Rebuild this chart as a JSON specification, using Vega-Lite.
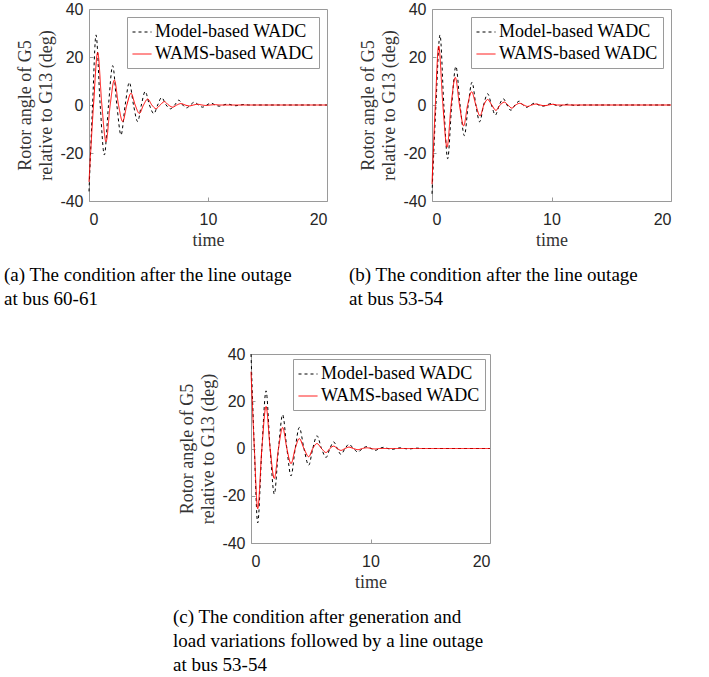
{
  "$schema": "https://vega.github.io/schema/vega-lite/v6.json",
  "padding": {"left": 3, "top": 0, "right": 0, "bottom": 0},
  "background": "white",
  "spacing": 35,
  "resolve": {"scale": {"color": "independent", "strokeDash": "independent"}},
  "datasets": {
    "a": [
      {"s":"M","t":0,"v":-36},{"s":"M","t":0.3,"v":0},{"s":"M","t":0.59,"v":29.2},{"s":"M","t":0.94,"v":0},{"s":"M","t":1.29,"v":-20.8},{"s":"M","t":1.64,"v":0},{"s":"M","t":1.99,"v":16.4},{"s":"M","t":2.34,"v":0},{"s":"M","t":2.69,"v":-12.5},{"s":"M","t":3.04,"v":0},{"s":"M","t":3.39,"v":9.4},{"s":"M","t":3.74,"v":0},{"s":"M","t":4.09,"v":-6.9},{"s":"M","t":4.4,"v":0},{"s":"M","t":4.72,"v":5.6},{"s":"M","t":5.08,"v":0},{"s":"M","t":5.45,"v":-3.6},{"s":"M","t":5.77,"v":0},{"s":"M","t":6.1,"v":3.1},{"s":"M","t":6.48,"v":0},{"s":"M","t":6.85,"v":-1.6},{"s":"M","t":7.2,"v":0},{"s":"M","t":7.55,"v":2.0},{"s":"M","t":7.87,"v":0},{"s":"M","t":8.2,"v":-1.2},{"s":"M","t":8.52,"v":0},{"s":"M","t":8.85,"v":1.2},{"s":"M","t":9.2,"v":0},{"s":"M","t":9.55,"v":-0.9},{"s":"M","t":9.9,"v":0},{"s":"M","t":10.25,"v":0.8},{"s":"M","t":10.6,"v":0},{"s":"M","t":10.95,"v":-0.5},{"s":"M","t":11.3,"v":0},{"s":"M","t":11.65,"v":0.4},{"s":"M","t":12,"v":0},{"s":"M","t":12.35,"v":-0.3},{"s":"M","t":12.7,"v":0},{"s":"M","t":13.05,"v":0.2},{"s":"M","t":13.4,"v":0},{"s":"M","t":20,"v":0},
      {"s":"W","t":0,"v":-32},{"s":"W","t":0.38,"v":0},{"s":"W","t":0.73,"v":21.9},{"s":"W","t":1.08,"v":0},{"s":"W","t":1.43,"v":-15.3},{"s":"W","t":1.78,"v":0},{"s":"W","t":2.13,"v":10.4},{"s":"W","t":2.48,"v":0},{"s":"W","t":2.83,"v":-6.9},{"s":"W","t":3.18,"v":0},{"s":"W","t":3.53,"v":4.9},{"s":"W","t":3.88,"v":0},{"s":"W","t":4.23,"v":-3.5},{"s":"W","t":4.58,"v":0},{"s":"W","t":4.93,"v":2.5},{"s":"W","t":5.28,"v":0},{"s":"W","t":5.63,"v":-1.5},{"s":"W","t":5.98,"v":0},{"s":"W","t":6.33,"v":1.4},{"s":"W","t":6.68,"v":0},{"s":"W","t":7.03,"v":-0.9},{"s":"W","t":7.38,"v":0},{"s":"W","t":7.73,"v":0.6},{"s":"W","t":8.08,"v":0},{"s":"W","t":8.43,"v":-0.4},{"s":"W","t":8.78,"v":0},{"s":"W","t":9.13,"v":0.3},{"s":"W","t":9.5,"v":0},{"s":"W","t":9.85,"v":-0.2},{"s":"W","t":10.2,"v":0},{"s":"W","t":10.6,"v":0.15},{"s":"W","t":11,"v":0},{"s":"W","t":20,"v":0}
    ],
    "b": [
      {"s":"M","t":0,"v":-37},{"s":"M","t":0.33,"v":0},{"s":"M","t":0.67,"v":29.2},{"s":"M","t":0.99,"v":0},{"s":"M","t":1.31,"v":-22.4},{"s":"M","t":1.65,"v":0},{"s":"M","t":2.0,"v":16.1},{"s":"M","t":2.35,"v":0},{"s":"M","t":2.71,"v":-12.8},{"s":"M","t":3.03,"v":0},{"s":"M","t":3.35,"v":9.5},{"s":"M","t":3.67,"v":0},{"s":"M","t":3.99,"v":-7.0},{"s":"M","t":4.32,"v":0},{"s":"M","t":4.66,"v":4.7},{"s":"M","t":4.98,"v":0},{"s":"M","t":5.3,"v":-4.2},{"s":"M","t":5.63,"v":0},{"s":"M","t":5.97,"v":2.6},{"s":"M","t":6.28,"v":0},{"s":"M","t":6.6,"v":-2.2},{"s":"M","t":6.95,"v":0},{"s":"M","t":7.3,"v":1.6},{"s":"M","t":7.6,"v":0},{"s":"M","t":7.9,"v":-1.0},{"s":"M","t":8.25,"v":0},{"s":"M","t":8.6,"v":0.8},{"s":"M","t":8.92,"v":0},{"s":"M","t":9.25,"v":-0.5},{"s":"M","t":9.6,"v":0},{"s":"M","t":9.95,"v":0.6},{"s":"M","t":10.3,"v":0},{"s":"M","t":10.65,"v":-0.5},{"s":"M","t":11,"v":0},{"s":"M","t":11.35,"v":0.3},{"s":"M","t":11.7,"v":0},{"s":"M","t":12.05,"v":-0.2},{"s":"M","t":12.4,"v":0},{"s":"M","t":20,"v":0},
      {"s":"W","t":0,"v":-33},{"s":"W","t":0.28,"v":0},{"s":"W","t":0.56,"v":24.6},{"s":"W","t":0.91,"v":0},{"s":"W","t":1.26,"v":-17.6},{"s":"W","t":1.6,"v":0},{"s":"W","t":1.95,"v":11.5},{"s":"W","t":2.3,"v":0},{"s":"W","t":2.65,"v":-8.7},{"s":"W","t":2.98,"v":0},{"s":"W","t":3.32,"v":5.5},{"s":"W","t":3.67,"v":0},{"s":"W","t":4.02,"v":-4.5},{"s":"W","t":4.34,"v":0},{"s":"W","t":4.66,"v":2.3},{"s":"W","t":5.0,"v":0},{"s":"W","t":5.35,"v":-2.2},{"s":"W","t":5.7,"v":0},{"s":"W","t":6.05,"v":1.2},{"s":"W","t":6.36,"v":0},{"s":"W","t":6.68,"v":-1.3},{"s":"W","t":7.0,"v":0},{"s":"W","t":7.35,"v":0.7},{"s":"W","t":7.68,"v":0},{"s":"W","t":8.0,"v":-0.6},{"s":"W","t":8.35,"v":0},{"s":"W","t":8.7,"v":0.4},{"s":"W","t":9.05,"v":0},{"s":"W","t":9.4,"v":-0.3},{"s":"W","t":9.75,"v":0},{"s":"W","t":10.1,"v":0.3},{"s":"W","t":10.5,"v":0},{"s":"W","t":20,"v":0}
    ],
    "c": [
      {"s":"M","t":0,"v":40},{"s":"M","t":0.28,"v":0},{"s":"M","t":0.56,"v":-31.5},{"s":"M","t":0.91,"v":0},{"s":"M","t":1.26,"v":24.4},{"s":"M","t":1.6,"v":0},{"s":"M","t":1.95,"v":-19.3},{"s":"M","t":2.3,"v":0},{"s":"M","t":2.65,"v":14.3},{"s":"M","t":3.0,"v":0},{"s":"M","t":3.35,"v":-11.6},{"s":"M","t":3.7,"v":0},{"s":"M","t":4.04,"v":8.9},{"s":"M","t":4.43,"v":0},{"s":"M","t":4.83,"v":-7.1},{"s":"M","t":5.17,"v":0},{"s":"M","t":5.52,"v":5.4},{"s":"M","t":5.9,"v":0},{"s":"M","t":6.28,"v":-3.8},{"s":"M","t":6.6,"v":0},{"s":"M","t":6.92,"v":2.8},{"s":"M","t":7.22,"v":0},{"s":"M","t":7.53,"v":-2.5},{"s":"M","t":7.87,"v":0},{"s":"M","t":8.2,"v":1.8},{"s":"M","t":8.57,"v":0},{"s":"M","t":8.95,"v":-1.5},{"s":"M","t":9.32,"v":0},{"s":"M","t":9.7,"v":0.8},{"s":"M","t":10.05,"v":0},{"s":"M","t":10.4,"v":-0.8},{"s":"M","t":10.75,"v":0},{"s":"M","t":11.1,"v":0.5},{"s":"M","t":11.45,"v":0},{"s":"M","t":11.8,"v":-0.4},{"s":"M","t":12.15,"v":0},{"s":"M","t":12.5,"v":0.3},{"s":"M","t":12.85,"v":0},{"s":"M","t":13.2,"v":-0.2},{"s":"M","t":13.55,"v":0},{"s":"M","t":13.9,"v":0.15},{"s":"M","t":14.3,"v":0},{"s":"M","t":20,"v":0},
      {"s":"W","t":0,"v":32.5},{"s":"W","t":0.28,"v":0},{"s":"W","t":0.56,"v":-25.5},{"s":"W","t":0.91,"v":0},{"s":"W","t":1.26,"v":17.8},{"s":"W","t":1.6,"v":0},{"s":"W","t":1.95,"v":-12.7},{"s":"W","t":2.3,"v":0},{"s":"W","t":2.65,"v":8.9},{"s":"W","t":3.0,"v":0},{"s":"W","t":3.35,"v":-6.4},{"s":"W","t":3.7,"v":0},{"s":"W","t":4.04,"v":4.2},{"s":"W","t":4.43,"v":0},{"s":"W","t":4.83,"v":-3.5},{"s":"W","t":5.17,"v":0},{"s":"W","t":5.52,"v":2.1},{"s":"W","t":5.9,"v":0},{"s":"W","t":6.28,"v":-1.7},{"s":"W","t":6.6,"v":0},{"s":"W","t":6.92,"v":1.0},{"s":"W","t":7.22,"v":0},{"s":"W","t":7.53,"v":-0.8},{"s":"W","t":7.87,"v":0},{"s":"W","t":8.2,"v":0.6},{"s":"W","t":8.57,"v":0},{"s":"W","t":8.95,"v":-0.5},{"s":"W","t":9.32,"v":0},{"s":"W","t":9.7,"v":0.3},{"s":"W","t":10.05,"v":0},{"s":"W","t":10.4,"v":-0.2},{"s":"W","t":10.75,"v":0},{"s":"W","t":20,"v":0}
    ]
  },
  "config": {
    "view": {"stroke": "#9a9a9a", "strokeWidth": 1},
    "font": "Liberation Serif",
    "axis": {
      "grid": false, "domain": false,
      "labelFont": "Liberation Sans", "labelFontSize": 16, "labelColor": "#262626",
      "titleFont": "Liberation Serif", "titleFontSize": 18, "titleFontWeight": "normal", "titleColor": "#333333",
      "tickColor": "#9a9a9a", "tickSize": -4, "labelPadding": 10,
      "labelExpr": "'' + datum.value"
    },
    "axisY": {"labelPadding": 10, "titlePadding": 4, "titleLineHeight": 21},
    "axisX": {"labelPadding": 14, "titlePadding": 4},
    "legend": {
      "title": null, "orient": "top-right", "offset": 8,
      "fillColor": "white", "strokeColor": "#9a9a9a", "padding": 5, "cornerRadius": 0,
      "labelFont": "Liberation Serif", "labelFontSize": 18, "labelColor": "#000000",
      "symbolType": "stroke", "symbolSize": 361, "symbolStrokeWidth": 1, "labelOffset": 3, "rowPadding": 3
    },
    "title": {
      "orient": "bottom", "anchor": "start", "frame": "group",
      "font": "Liberation Serif", "fontSize": 19, "fontWeight": "normal", "color": "#000000",
      "lineHeight": 24, "offset": 17
    },
    "line": {"strokeWidth": 1, "interpolate": "monotone"}
  },
  "vconcat": [
    {
      "bounds": "flush",
      "spacing": 105,
      "resolve": {"scale": {"color": "independent", "strokeDash": "independent"}},
      "hconcat": [
        {
          "width": 238, "height": 192,
          "title": {"text": ["(a) The condition after the line outage", "at bus 60-61"], "dx": -85},
          "data": {"name": "a"},
          "mark": {"type": "line"},
          "encoding": {
            "x": {"field": "t", "type": "quantitative", "scale": {"domain": [0, 20], "nice": false}, "axis": {"values": [0, 10, 20], "title": "time"}},
            "y": {"field": "v", "type": "quantitative", "scale": {"domain": [-40, 40], "nice": false}, "axis": {"values": [-40, -20, 0, 20, 40], "title": ["Rotor angle of G5", "relative to G13 (deg)"]}},
            "color": {"field": "s", "type": "nominal", "scale": {"domain": ["M", "W"], "range": ["#000000", "#ff0000"]}, "legend": {"labelExpr": "datum.label == 'M' ? 'Model-based WADC' : 'WAMS-based WADC'"}},
            "strokeDash": {"field": "s", "type": "nominal", "scale": {"domain": ["M", "W"], "range": [[3, 3], [1, 0]]}, "legend": {"labelExpr": "datum.label == 'M' ? 'Model-based WADC' : 'WAMS-based WADC'"}}
          }
        },
        {
          "width": 239, "height": 192,
          "title": {"text": ["(b) The condition after the line outage", "at bus 53-54"], "dx": -83},
          "data": {"name": "b"},
          "mark": {"type": "line"},
          "encoding": {
            "x": {"field": "t", "type": "quantitative", "scale": {"domain": [0, 20], "nice": false}, "axis": {"values": [0, 10, 20], "title": "time"}},
            "y": {"field": "v", "type": "quantitative", "scale": {"domain": [-40, 40], "nice": false}, "axis": {"values": [-40, -20, 0, 20, 40], "title": ["Rotor angle of G5", "relative to G13 (deg)"]}},
            "color": {"field": "s", "type": "nominal", "scale": {"domain": ["M", "W"], "range": ["#000000", "#ff0000"]}, "legend": {"labelExpr": "datum.label == 'M' ? 'Model-based WADC' : 'WAMS-based WADC'"}},
            "strokeDash": {"field": "s", "type": "nominal", "scale": {"domain": ["M", "W"], "range": [[3, 3], [1, 0]]}, "legend": {"labelExpr": "datum.label == 'M' ? 'Model-based WADC' : 'WAMS-based WADC'"}}
          }
        }
      ]
    },
    {
      "bounds": "flush",
      "spacing": 0,
      "resolve": {"scale": {"color": "independent", "strokeDash": "independent"}},
      "hconcat": [
        {
          "width": 162, "height": 1,
          "view": {"stroke": null},
          "data": {"values": []},
          "mark": "point"
        },
        {
          "width": 239, "height": 189,
          "title": {"text": ["(c) The condition after generation and", "load variations followed by a line outage", "at bus 53-54"], "dx": -78},
          "data": {"name": "c"},
          "mark": {"type": "line"},
          "encoding": {
            "x": {"field": "t", "type": "quantitative", "scale": {"domain": [0, 20], "nice": false}, "axis": {"values": [0, 10, 20], "title": "time"}},
            "y": {"field": "v", "type": "quantitative", "scale": {"domain": [-40, 40], "nice": false}, "axis": {"values": [-40, -20, 0, 20, 40], "title": ["Rotor angle of G5", "relative to G13 (deg)"]}},
            "color": {"field": "s", "type": "nominal", "scale": {"domain": ["M", "W"], "range": ["#000000", "#ff0000"]}, "legend": {"offset": 5, "labelExpr": "datum.label == 'M' ? 'Model-based WADC' : 'WAMS-based WADC'"}},
            "strokeDash": {"field": "s", "type": "nominal", "scale": {"domain": ["M", "W"], "range": [[3, 3], [1, 0]]}, "legend": {"offset": 5, "labelExpr": "datum.label == 'M' ? 'Model-based WADC' : 'WAMS-based WADC'"}}
          }
        }
      ]
    }
  ]
}
